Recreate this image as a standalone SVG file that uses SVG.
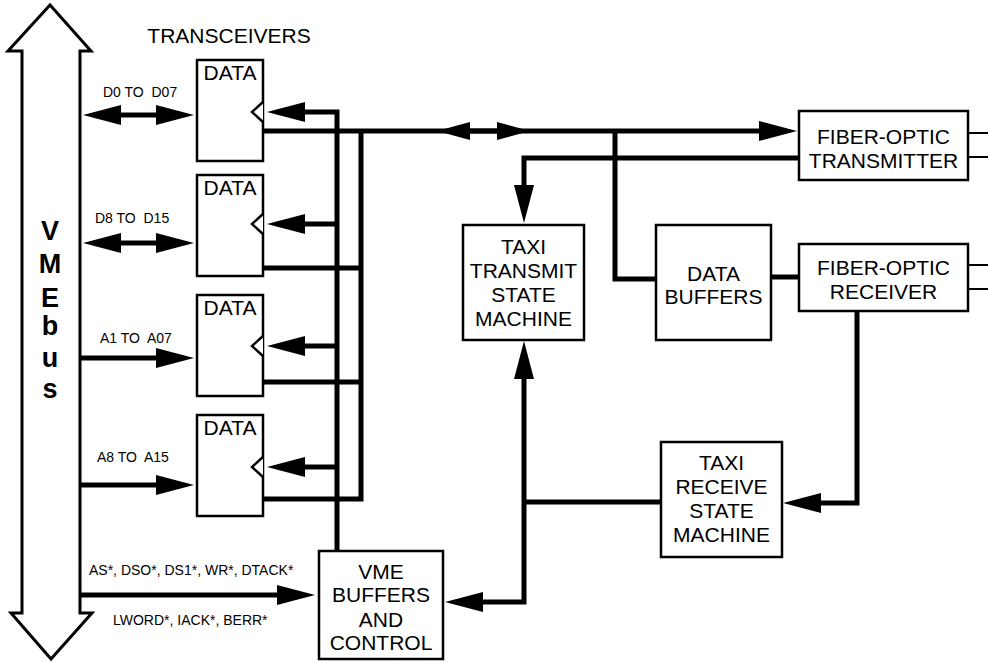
<svg xmlns="http://www.w3.org/2000/svg" width="988" height="662" viewBox="0 0 988 662">
<style>
.box{fill:#fff;stroke:#000;stroke-width:2.5}
.ln{fill:none;stroke:#000;stroke-width:5}
.thin{fill:none;stroke:#000;stroke-width:2}
.t{font-family:"Liberation Sans",Arial,Helvetica,sans-serif;font-size:21px;fill:#000;text-anchor:middle}
.s{font-family:"Liberation Sans",Arial,Helvetica,sans-serif;font-size:14px;fill:#000}
.vb{font-family:"Liberation Sans",Arial,Helvetica,sans-serif;font-size:27px;font-weight:bold;fill:#000;text-anchor:middle}
</style>
<defs>
<marker id="a" markerUnits="userSpaceOnUse" viewBox="0 0 38 20" markerWidth="38" markerHeight="20" refX="18" refY="10" orient="auto-start-reverse"><path d="M0,0 L38,10 L0,20 z" fill="#000"/></marker>
<marker id="b" markerUnits="userSpaceOnUse" viewBox="0 0 33 18" markerWidth="33" markerHeight="18" refX="13" refY="9" orient="auto-start-reverse"><path d="M0,0 L33,9 L0,18 z" fill="#000"/></marker>
</defs>
<rect width="988" height="662" fill="#fff"/>

<g id="connectors">
<path class="ln" d="M103,115 H174" marker-start="url(#a)" marker-end="url(#a)"/>
<path class="ln" d="M103,243 H174" marker-start="url(#a)" marker-end="url(#a)"/>
<path class="ln" d="M80,358 H174" marker-end="url(#a)"/>
<path class="ln" d="M80,485 H174" marker-end="url(#a)"/>
<path class="ln" d="M80,595 H295" marker-end="url(#a)"/>
<path class="ln" d="M337,551 V112 H287" marker-end="url(#a)"/>
<path class="ln" d="M337,224 H287" marker-end="url(#a)"/>
<path class="ln" d="M337,346 H287" marker-end="url(#a)"/>
<path class="ln" d="M337,467 H287" marker-end="url(#a)"/>
<path class="ln" d="M263,131 H777" marker-end="url(#a)"/>
<path class="ln" d="M457,131 H510" marker-start="url(#b)" marker-end="url(#b)"/>
<path class="ln" d="M263,499 H361 V131"/>
<path class="ln" d="M263,268 H361"/>
<path class="ln" d="M263,382 H361"/>
<path class="ln" d="M615,131 V279 H656"/>
<path class="ln" d="M799,158 H524 V203" marker-end="url(#a)"/>
<path class="ln" d="M771,277 H799"/>
<path class="ln" d="M857,311 V503 H803" marker-end="url(#a)"/>
<path class="ln" d="M661,502 H524"/>
<path class="ln" d="M465,602 H524 V361" marker-start="url(#a)" marker-end="url(#a)"/>
<path class="thin" d="M968,133 H988 M968,157 H988 M968,265 H988 M968,289 H988"/>
</g>

<g id="vmebus">
<polygon points="50,5 8,51 22,51 22,613 11,613 51,659 92,613 80,613 80,51 91,51" fill="#fff" stroke="#000" stroke-width="3" stroke-linejoin="miter"/>
<text class="vb" x="50" y="240">V</text>
<text class="vb" x="50" y="273">M</text>
<text class="vb" x="50" y="307">E</text>
<text class="vb" x="50" y="335">b</text>
<text class="vb" x="50" y="367">u</text>
<text class="vb" x="50" y="398">s</text>
</g>

<g id="labels">
<text class="t" x="229" y="43">TRANSCEIVERS</text>
<text class="s" x="103" y="97" xml:space="preserve">D0 TO  D07</text>
<text class="s" x="95" y="223" xml:space="preserve">D8 TO  D15</text>
<text class="s" x="100" y="343" xml:space="preserve">A1 TO  A07</text>
<text class="s" x="97" y="462" xml:space="preserve">A8 TO  A15</text>
<text class="s" x="89" y="575">AS*, DSO*, DS1*, WR*, DTACK*</text>
<text class="s" x="113" y="625">LWORD*, IACK*, BERR*</text>
</g>

<g id="data1">
<rect class="box" x="197" y="60" width="66" height="101"/>
<polyline class="box" points="263,102 252,112 263,122" fill="none"/>
<text class="t" x="230" y="80">DATA</text>
</g>
<g id="data2">
<rect class="box" x="197" y="175" width="66" height="101"/>
<polyline class="box" points="263,214 252,224 263,234" fill="none"/>
<text class="t" x="230" y="195">DATA</text>
</g>
<g id="data3">
<rect class="box" x="197" y="295" width="66" height="101"/>
<polyline class="box" points="263,336 252,346 263,356" fill="none"/>
<text class="t" x="230" y="315">DATA</text>
</g>
<g id="data4">
<rect class="box" x="197" y="415" width="66" height="101"/>
<polyline class="box" points="263,457 252,467 263,477" fill="none"/>
<text class="t" x="230" y="435">DATA</text>
</g>

<g id="taxi-transmit">
<rect class="box" x="463" y="225" width="121" height="115"/>
<text class="t" x="523.5" y="254">TAXI</text>
<text class="t" x="523.5" y="278">TRANSMIT</text>
<text class="t" x="523.5" y="302">STATE</text>
<text class="t" x="523.5" y="326">MACHINE</text>
</g>

<g id="data-buffers">
<rect class="box" x="656" y="225" width="115" height="115"/>
<text class="t" x="713.5" y="281">DATA</text>
<text class="t" x="713.5" y="304">BUFFERS</text>
</g>

<g id="fo-transmitter">
<rect class="box" x="799" y="111" width="169" height="69"/>
<text class="t" x="883.5" y="144">FIBER-OPTIC</text>
<text class="t" x="883.5" y="168">TRANSMITTER</text>
</g>

<g id="fo-receiver">
<rect class="box" x="799" y="244" width="169" height="67"/>
<text class="t" x="883.5" y="275">FIBER-OPTIC</text>
<text class="t" x="883.5" y="299">RECEIVER</text>
</g>

<g id="taxi-receive">
<rect class="box" x="661" y="442" width="121" height="115"/>
<text class="t" x="721.5" y="470">TAXI</text>
<text class="t" x="721.5" y="494">RECEIVE</text>
<text class="t" x="721.5" y="518">STATE</text>
<text class="t" x="721.5" y="542">MACHINE</text>
</g>

<g id="vme-buffers">
<rect class="box" x="319" y="551" width="124" height="108"/>
<text class="t" x="381" y="579">VME</text>
<text class="t" x="381" y="602">BUFFERS</text>
<text class="t" x="381" y="627">AND</text>
<text class="t" x="381" y="650">CONTROL</text>
</g>
</svg>
